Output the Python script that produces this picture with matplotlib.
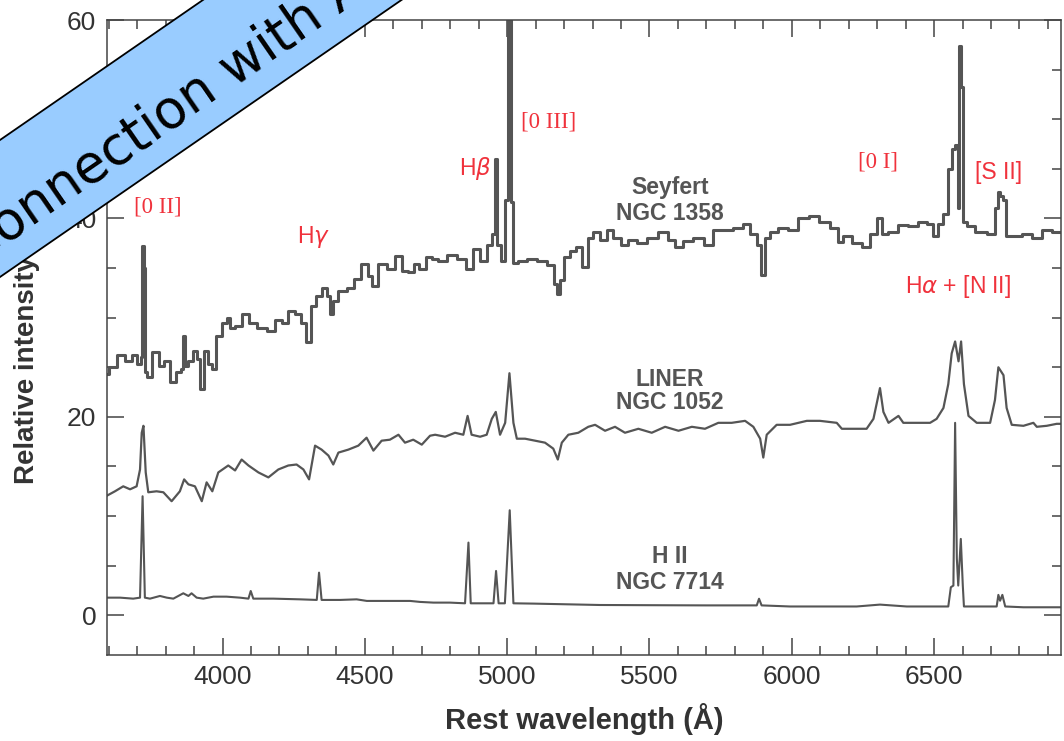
import math
import matplotlib
matplotlib.use("Agg")
import matplotlib.pyplot as plt
from matplotlib.patches import Polygon
from matplotlib.ticker import MultipleLocator

# ---------------- data ----------------
sey_wl = [3590, 3610, 3645, 3669, 3692, 3710, 3714, 3720, 3726, 3732, 3739, 3768, 3786, 3804,
          3827, 3845, 3860, 3865, 3870, 3886, 3903, 3915, 3929, 3944, 3956, 3968, 3985, 4008,
          4020, 4032, 4055, 4085, 4102, 4137, 4173, 4196, 4220, 4243, 4266, 4284, 4301, 4319,
          4337, 4360, 4372, 4383, 4395, 4419, 4454, 4471, 4501, 4518, 4530, 4559, 4594, 4618,
          4641, 4665, 4682, 4700, 4729, 4746, 4770, 4805, 4840, 4870, 4893, 4916, 4940, 4952,
          4960, 4969, 4987, 4998, 5007, 5018, 5025, 5051, 5086, 5121, 5157, 5171, 5180, 5192,
          5209, 5233, 5250, 5274, 5291, 5315, 5338, 5362, 5385, 5414, 5438, 5473, 5508, 5549,
          5578, 5602, 5637, 5672, 5713, 5736, 5777, 5812, 5842, 5865, 5889, 5898, 5912, 5935,
          5971, 6006, 6041, 6082, 6111, 6158, 6170, 6193, 6228, 6263, 6287, 6310, 6322, 6357,
          6392, 6427, 6463, 6486, 6504, 6521, 6544, 6556, 6568, 6580, 6586, 6591, 6601, 6605,
          6627, 6662, 6708, 6720, 6726, 6738, 6750, 6755, 6790, 6826, 6861, 6896, 6931, 6950]
sey_flux = [24.3, 25.0, 26.2, 25.6, 26.2, 25.3, 26.0, 37.2, 35.0, 24.5, 24.0, 26.5, 25.1, 25.6,
            23.5, 24.5, 24.8, 28.2, 25.1, 25.6, 26.6, 25.8, 22.8, 26.6, 25.3, 24.8, 28.2, 29.5,
            30.0, 29.0, 29.2, 30.4, 29.5, 29.0, 28.7, 29.8, 29.5, 30.7, 30.4, 29.5, 27.5, 31.2,
            32.2, 33.0, 32.2, 30.4, 31.7, 32.7, 33.0, 33.9, 35.4, 34.2, 33.2, 35.4, 34.9, 36.2,
            34.7, 34.6, 35.4, 34.9, 36.1, 35.9, 35.7, 36.3, 35.9, 34.9, 36.9, 35.7, 37.3, 38.4,
            46.0, 37.3, 35.7, 41.9, 60.5, 41.7, 35.5, 35.7, 35.9, 35.7, 35.3, 33.4, 32.4, 33.8,
            36.1, 36.7, 37.1, 35.1, 38.0, 38.6, 37.8, 38.8, 38.0, 37.3, 37.8, 37.5, 38.0, 38.6,
            37.8, 37.1, 37.7, 38.0, 37.3, 38.8, 38.8, 39.0, 39.4, 38.4, 37.3, 34.3, 38.0, 38.6,
            39.0, 38.8, 40.0, 40.2, 39.6, 39.0, 37.6, 38.2, 37.5, 37.1, 38.4, 40.0, 38.4, 38.6,
            39.3, 39.2, 39.6, 39.4, 38.2, 39.4, 40.4, 45.0, 47.0, 47.4, 41.1, 57.4, 53.2, 39.6,
            39.2, 38.6, 38.4, 41.1, 42.7, 42.3, 41.9, 38.2, 38.2, 38.4, 38.0, 38.8, 38.6, 38.6]

lin_wl = [3590, 3622, 3651, 3675, 3698, 3710, 3716, 3722, 3730, 3739, 3768, 3792, 3821, 3850,
          3865, 3880, 3903, 3927, 3944, 3964, 3985, 4020, 4044, 4067, 4091, 4126, 4161, 4196,
          4231, 4260, 4284, 4304, 4325, 4348, 4372, 4389, 4407, 4442, 4477, 4506, 4530, 4559,
          4588, 4618, 4641, 4670, 4700, 4729, 4747, 4782, 4817, 4846, 4861, 4875, 4905, 4928,
          4946, 4960, 4975, 4993, 5008, 5022, 5034, 5063, 5098, 5133, 5162, 5178, 5192, 5215,
          5250, 5285, 5309, 5344, 5379, 5414, 5461, 5508, 5555, 5602, 5649, 5695, 5742, 5789,
          5836, 5865, 5889, 5900, 5912, 5947, 5994, 6053, 6099, 6158, 6176, 6217, 6263, 6287,
          6301, 6310, 6322, 6340, 6360, 6375, 6392, 6439, 6486, 6509, 6533, 6550, 6562, 6574,
          6586, 6595, 6605, 6621, 6650, 6697, 6714, 6726, 6744, 6755, 6773, 6814, 6849, 6861,
          6896, 6931, 6950]
lin_flux = [12.0, 12.5, 13.0, 12.7, 13.0, 14.7, 18.4, 19.1, 14.4, 12.4, 12.5, 12.4, 11.5, 12.5,
            13.7, 13.2, 13.0, 11.5, 13.4, 12.5, 14.4, 15.1, 14.6, 15.7, 15.1, 14.4, 13.9, 14.7,
            15.1, 15.2, 14.7, 13.7, 17.1, 16.7, 16.1, 15.2, 16.4, 16.7, 17.1, 17.9, 16.6, 17.6,
            17.7, 18.2, 17.4, 17.7, 17.2, 18.1, 18.2, 18.0, 18.4, 18.2, 20.1, 18.2, 18.0, 18.2,
            19.8, 20.5, 18.2, 19.4, 24.4, 19.4, 17.8, 17.8, 17.6, 17.4, 16.8, 15.7, 17.4, 18.2,
            18.4, 19.0, 19.2, 18.6, 19.0, 18.4, 18.8, 18.4, 19.0, 18.6, 19.0, 18.8, 19.4, 19.4,
            19.6, 19.0, 17.8, 15.9, 18.2, 19.2, 19.2, 19.6, 19.6, 19.4, 18.8, 18.8, 18.8, 19.8,
            21.7, 22.9, 20.5, 19.4, 19.8, 20.1, 19.4, 19.4, 19.4, 19.8, 20.9, 23.3, 26.4, 27.6,
            25.6, 27.6, 23.3, 20.1, 19.4, 19.4, 21.7, 25.0, 24.2, 20.9, 19.2, 19.1, 19.4, 19.0,
            19.1, 19.3, 19.3]

hii_wl = [3590, 3640, 3686, 3710, 3719, 3727, 3745, 3780, 3804, 3827, 3862, 3880, 3891, 3909,
          3932, 3968, 4014, 4061, 4091, 4099, 4108, 4178, 4272, 4331, 4339, 4348, 4413, 4471,
          4507, 4600, 4659, 4694, 4741, 4799, 4852, 4864, 4872, 4916, 4952, 4961, 4970, 4992,
          5009, 5022, 5092, 5209, 5326, 5500, 5700, 5818, 5877, 5885, 5894, 5994, 6111, 6228,
          6310, 6404, 6521, 6550, 6559, 6568, 6574, 6580, 6585, 6594, 6601, 6605, 6685, 6720,
          6726, 6732, 6740, 6750, 6814, 6931, 6950]
hii_flux = [1.78, 1.78, 1.68, 1.78, 12.0, 1.78, 1.68, 1.95, 1.78, 1.68, 2.22, 1.95, 2.22, 1.78,
            1.68, 1.88, 1.88, 1.78, 1.68, 2.45, 1.68, 1.68, 1.61, 1.55, 4.30, 1.55, 1.55, 1.61,
            1.45, 1.45, 1.45, 1.35, 1.28, 1.28, 1.21, 7.33, 1.21, 1.21, 1.21, 4.47, 1.21, 1.21,
            10.59, 1.21, 1.18, 1.11, 1.04, 1.02, 1.0, 1.0, 1.0, 1.67, 1.0, 0.89, 0.89, 0.89,
            1.08, 0.89, 0.89, 0.89, 2.83, 3.0, 19.4, 5.75, 3.0, 7.7, 3.0, 0.89, 0.89, 0.89,
            2.06, 1.47, 2.06, 0.89, 0.81, 0.81, 0.81]

x_ticks = [4000, 4500, 5000, 5500, 6000, 6500]
y_ticks = [0, 20, 40, 60]

# ---------------- figure ----------------
plt.rcParams['font.family'] = ['Liberation Sans', 'DejaVu Sans']
W, H = 1064, 741
fig = plt.figure(figsize=(W / 100, H / 100), dpi=100)
ax = fig.add_axes([107.3 / W, 1 - 655 / H, (1060.7 - 107.3) / W, (655 - 20) / H])

line_col = '#555555'
ax.plot(sey_wl, sey_flux, drawstyle='steps-mid', color=line_col, lw=2.2)
ax.plot(lin_wl, lin_flux, color=line_col, lw=1.6)
ax.plot(hii_wl, hii_flux, color=line_col, lw=1.5)

ax.set_xlim(3595, 6945)
ax.set_ylim(-4, 60)
ax.set_xticks(x_ticks)
ax.set_yticks(y_ticks)
ax.xaxis.set_minor_locator(MultipleLocator(100))
ax.yaxis.set_minor_locator(MultipleLocator(5))

spine_col = '#444444'
for s in ax.spines.values():
    s.set_color(spine_col)
    s.set_linewidth(1.1)
ax.tick_params(which='both', direction='in', top=True, right=True, width=1.1,
               color=spine_col, labelcolor='#333333', labelsize=19)
ax.tick_params(which='major', length=12.5)
ax.tick_params(which='minor', length=6.8)
ax.tick_params(axis='x', which='major', pad=7)
ax.tick_params(axis='y', which='major', pad=8)

ax.set_xlabel('Rest wavelength (Å)', fontsize=21, fontweight='bold', color='#333333', labelpad=10)
ax.set_ylabel('Relative intensity', fontsize=20, fontweight='bold', color='#333333')
ax.yaxis.set_label_coords(-0.0706, 0.449)

red = '#f0323c'
serif = ['Liberation Serif', 'DejaVu Serif']
ax.text(3773, 41.2, '[0 II]', color=red, fontsize=16.5, family=serif, ha='center', va='center')
ax.text(4318, 38.1, r'H$\gamma$', color=red, fontsize=16.5, ha='center', va='center')
ax.text(4887, 45.0, r'H$\beta$', color=red, fontsize=16.5, ha='center', va='center')
ax.text(5147, 49.7, '[0 III]', color=red, fontsize=16.5, family=serif, ha='center', va='center')
ax.text(6304, 45.7, '[0 I]', color=red, fontsize=16.5, family=serif, ha='center', va='center')
ax.text(6725, 44.6, '[S II]', color=red, fontsize=16.5, ha='center', va='center')
ax.text(6585, 33.1, r'H$\alpha$ + [N II]', color=red, fontsize=16.5, ha='center', va='center')

gray = '#555555'
for txt, yv in [('Seyfert', 43.1), ('NGC 1358', 40.5), ('LINER', 23.8), ('NGC 1052', 21.4),
                ('H II', 5.95), ('NGC 7714', 3.33)]:
    ax.text(5572, yv, txt, color=gray, fontsize=16.5, fontweight='bold', ha='center', va='center')

# ---------------- corner banner ----------------
def px(x, y):
    return (x / W, 1 - y / H)

slope = 0.69
poly = [px(-300, 277 + 300 * slope), px(700, 277 - 700 * slope),
        px(700, 140 - 700 * slope), px(-300, 140 + 300 * slope)]
band = Polygon(poly, closed=True, transform=fig.transFigure, facecolor='#99ccff',
               edgecolor='black', linewidth=1.3, zorder=10, clip_on=False)
fig.add_artist(band)
ang = math.degrees(math.atan(slope))
fig.text(*px(-33.9, 253.6), 'Connection with AGN', rotation=ang,
         rotation_mode='anchor', ha='left', va='center', fontsize=38,
         family='DejaVu Sans', color='black', zorder=11)

fig.savefig('out.png', dpi=100)
